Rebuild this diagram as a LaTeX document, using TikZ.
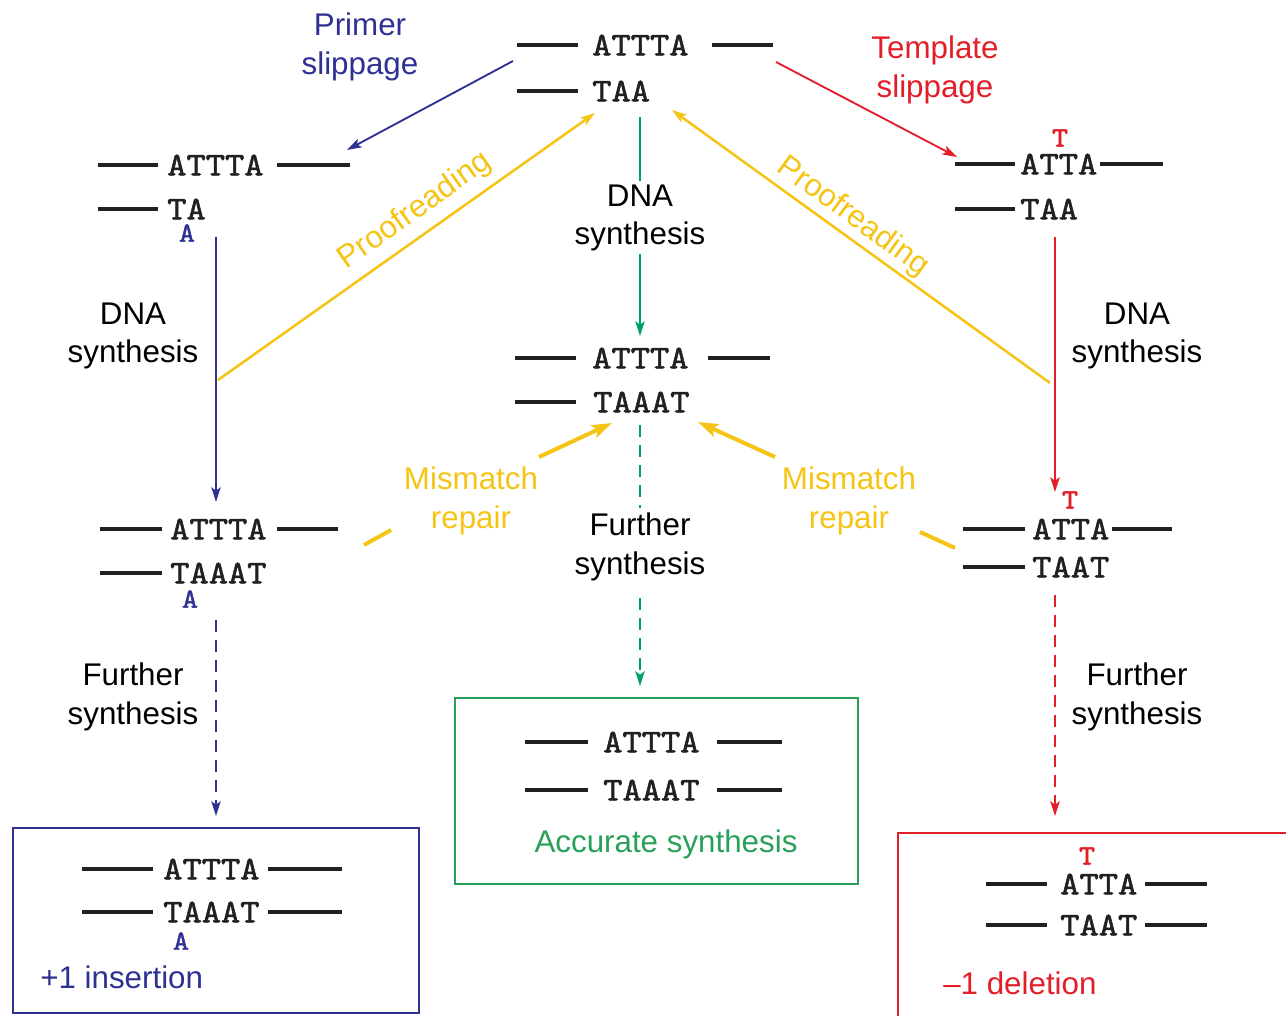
\documentclass[tikz,border=0pt]{standalone}
\usepackage{fontspec}
\setmainfont{Liberation Sans}
\newfontfamily\seqfont{lmmono10-regular.otf}[FakeBold=1.6, FakeStretch=1.1]
\usetikzlibrary{arrows.meta}
\definecolor{cblue}{RGB}{46,49,146}
\definecolor{cred}{RGB}{226,30,40}
\definecolor{cgreen}{RGB}{0,160,110}
\definecolor{cyel}{RGB}{245,196,20}
\definecolor{cbox}{RGB}{40,160,90}
\definecolor{cink}{RGB}{35,31,32}
\begin{document}
\begin{tikzpicture}[x=0.75pt,y=-0.75pt,
  strand/.style={line width=2.8pt,cink},
  seq/.style={font=\seqfont\fontsize{25}{25}\selectfont, inner sep=0pt, anchor=west, text=cink},
  basemark/.style={font=\seqfont\fontsize{21}{21}\selectfont, inner sep=0pt},
  lab/.style={font=\fontsize{23.5}{29}\selectfont, align=center, inner sep=0pt},
  arr/.style={-{Stealth[length=11pt,width=7pt,inset=2.5pt]}},
  bigarr/.style={-{Stealth[length=15pt,width=10pt,inset=3pt]}},
  thinline/.style={line width=1.4pt},
  dashline/.style={line width=1.6pt, dash pattern=on 9pt off 6pt},
  proof/.style={line width=1.9pt, cyel},
  repair/.style={line width=3pt, cyel}
]
\useasboundingbox (0,0) rectangle (1286,1016);
\clip (0,0) rectangle (1286,1016);

% ---------- top centre ----------
\draw[strand] (517,45)--(578,45);
\node[seq] (topA) at (592,45) {ATTTA};
\draw[strand] (712,45)--(773,45);
\draw[strand] (517,91)--(578,91);
\node[seq] (topB) at (592,91) {TAA};

% ---------- left, second row ----------
\draw[strand] (98,165)--(158,165);
\node[seq] (l2A) at (167,165) {ATTTA};
\draw[strand] (277,165)--(350,165);
\draw[strand] (98,209)--(158,209);
\node[seq] (l2B) at (167,209) {TA};
\node[basemark, text=cblue] (l2m) at (187,233) {A};

% ---------- right, second row ----------
\node[basemark, text=cred] (r2m) at (1060,138) {T};
\draw[strand] (955,164)--(1015,164);
\node[seq] (r2A) at (1020,164) {ATTA};
\draw[strand] (1100,164)--(1163,164);
\draw[strand] (955,209)--(1015,209);
\node[seq] (r2B) at (1020,209) {TAA};

% ---------- centre, second row ----------
\draw[strand] (515,358)--(576,358);
\node[seq] (c2A) at (592,358) {ATTTA};
\draw[strand] (708,358)--(770,358);
\draw[strand] (515,402)--(576,402);
\node[seq] (c2B) at (593,402) {TAAAT};

% ---------- left, third row ----------
\draw[strand] (100,529)--(162,529);
\node[seq] (l3A) at (170,529) {ATTTA};
\draw[strand] (277,529)--(338,529);
\draw[strand] (100,573)--(162,573);
\node[seq] (l3B) at (170,573) {TAAAT};
\node[basemark, text=cblue] (l3m) at (190,599) {A};

% ---------- right, third row ----------
\node[basemark, text=cred] (r3m) at (1070,500) {T};
\draw[strand] (963,529)--(1025,529);
\node[seq] (r3A) at (1032,529) {ATTA};
\draw[strand] (1112,529)--(1172,529);
\draw[strand] (963,567)--(1025,567);
\node[seq] (r3B) at (1032,567) {TAAT};

% ---------- result boxes ----------
\draw[cblue, line width=1.4pt] (13,828) rectangle (419,1013);
\draw[strand] (82,869)--(153,869);
\node[seq] (bA) at (163,869) {ATTTA};
\draw[strand] (268,869)--(342,869);
\draw[strand] (82,912)--(153,912);
\node[seq] (bB) at (163,912) {TAAAT};
\draw[strand] (268,912)--(342,912);
\node[basemark, text=cblue] (bm) at (181,941) {A};
\node[lab, text=cblue, anchor=west] (blab) at (40,977) {+1 insertion};

\draw[cbox, line width=1.4pt] (455,698) rectangle (858,884);
\draw[strand] (525,742)--(588,742);
\node[seq] (gA) at (603,742) {ATTTA};
\draw[strand] (717,742)--(782,742);
\draw[strand] (525,790)--(588,790);
\node[seq] (gB) at (603,790) {TAAAT};
\draw[strand] (717,790)--(782,790);
\node[lab, text=cbox] (glab) at (666,844) {Accurate synthesis};

\draw[cred, line width=1.4pt] (1300,833) -- (898,833) -- (898,1030);
\node[basemark, text=cred] (rm) at (1087,856) {T};
\draw[strand] (986,884)--(1047,884);
\node[seq] (rA) at (1060,884) {ATTA};
\draw[strand] (1145,884)--(1207,884);
\draw[strand] (986,925)--(1047,925);
\node[seq] (rB) at (1060,925) {TAAT};
\draw[strand] (1145,925)--(1207,925);
\node[lab, text=cred, anchor=west] (rlab) at (943,983) {–1 deletion};

% ---------- labels ----------
\node[lab, text=cblue] (pslab) at (360,47) {Primer\\slippage};
\node[lab, text=cred] (tslab) at (935,70) {Template\\slippage};
\node[lab] (dnaC) at (640,218) {DNA\\synthesis};
\node[lab] (dnaL) at (133,336) {DNA\\synthesis};
\node[lab] (dnaR) at (1137,336) {DNA\\synthesis};
\node[lab] (furC) at (640,547) {Further\\synthesis};
\node[lab] (furL) at (133,697) {Further\\synthesis};
\node[lab] (furR) at (1137,697) {Further\\synthesis};
\node[lab, text=cyel] (mmL) at (471,501) {Mismatch\\repair};
\node[lab, text=cyel] (mmR) at (849,501) {Mismatch\\repair};
\node[lab, text=cyel, rotate=35.3] (prL) at (415,211) {Proofreading};
\node[lab, text=cyel, rotate=-36] (prR) at (853,217) {Proofreading};

% ---------- connector end points ----------
\coordinate (ps0) at (513,61);   \coordinate (ps1) at (347,150);
\coordinate (ts0) at (776,62);   \coordinate (ts1) at (957,157);
\coordinate (gc0) at (640,117);  \coordinate (gc1) at (640,181);
\coordinate (gc2) at (640,254);  \coordinate (gc3) at (640,336);
\coordinate (bl0) at (216,237);  \coordinate (bl1) at (216,502);
\coordinate (rd0) at (1055,237); \coordinate (rd1) at (1055,492);
\coordinate (pl0) at (218,380);  \coordinate (pl1) at (595,113);
\coordinate (pr0) at (1050,383); \coordinate (pr1) at (672,110);
\coordinate (ml0) at (364,545);  \coordinate (ml1) at (391,530);
\coordinate (ml2) at (539,457);  \coordinate (ml3) at (612,423);
\coordinate (mr0) at (955,548);  \coordinate (mr1) at (920,532);
\coordinate (mr2) at (775,457);  \coordinate (mr3) at (698,422);
\coordinate (gd0) at (640,425);  \coordinate (gd1) at (640,508);
\coordinate (gd2) at (640,598);  \coordinate (gd3) at (640,686);
\coordinate (bd0) at (216,620);  \coordinate (bd1) at (216,816);
\coordinate (rdd0) at (1055,595); \coordinate (rdd1) at (1055,816);

% ---------- connectors ----------
\draw[cblue, thinline, arr] (ps0) -- (ps1);
\draw[cred, thinline, arr] (ts0) -- (ts1);
\draw[cgreen, thinline] (gc0) -- (gc1);
\draw[cgreen, thinline, arr] (gc2) -- (gc3);
\draw[cblue, thinline, arr] (bl0) -- (bl1);
\draw[cred, thinline, arr] (rd0) -- (rd1);
\draw[proof, arr] (pl0) -- (pl1);
\draw[proof, arr] (pr0) -- (pr1);
\draw[repair] (ml0) -- (ml1);
\draw[repair, bigarr] (ml2) -- (ml3);
\draw[repair] (mr0) -- (mr1);
\draw[repair, bigarr] (mr2) -- (mr3);
\draw[cgreen, dashline] (gd0) -- (gd1);
\draw[cgreen, dashline, arr] (gd2) -- (gd3);
\draw[cblue, dashline, arr] (bd0) -- (bd1);
\draw[cred, dashline, arr] (rdd0) -- (rdd1);
\end{tikzpicture}
\end{document}
